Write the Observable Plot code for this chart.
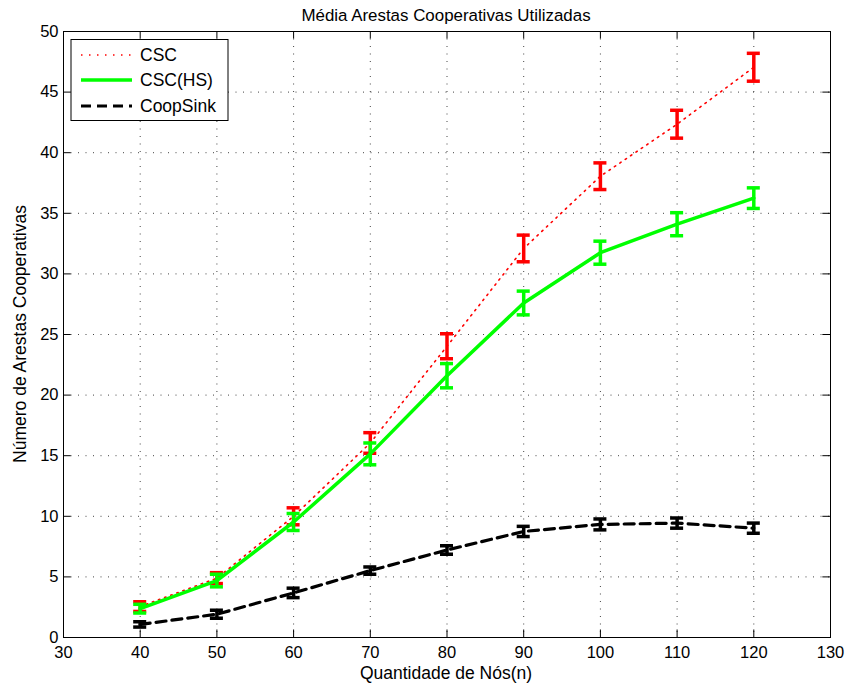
<!DOCTYPE html>
<html>
<head>
<meta charset="utf-8">
<script src="https://cdn.jsdelivr.net/npm/d3@7"></script>
<script src="https://cdn.jsdelivr.net/npm/@observablehq/plot@0.6"></script>
<style>
  html, body { margin: 0; padding: 0; background: #fff; }
</style>
</head>
<body>
<div id="chart"></div>
<script>
const nodes = [40, 50, 60, 70, 80, 90, 100, 110, 120];
const cscMean = [2.55, 4.9, 10.0, 16.05, 24.03, 32.1, 38.06, 42.35, 47.05];
const cscErr  = [0.4, 0.45, 0.7, 0.85, 1.03, 1.1, 1.1, 1.15, 1.15];
const hsMean  = [2.38, 4.7, 9.53, 15.15, 21.6, 27.6, 31.75, 34.1, 36.25];
const hsErr   = [0.36, 0.52, 0.7, 0.9, 1.0, 0.98, 0.95, 0.95, 0.85];
const coopMean = [1.08, 1.92, 3.68, 5.52, 7.22, 8.75, 9.33, 9.44, 9.02];
const coopErr  = [0.22, 0.33, 0.39, 0.3, 0.35, 0.42, 0.45, 0.42, 0.42];
const xTicks = [30, 40, 50, 60, 70, 80, 90, 100, 110, 120, 130];
const yTicks = [0, 5, 10, 15, 20, 25, 30, 35, 40, 45, 50];
const seriesNames = ["CSC", "CSC(HS)", "CoopSink"];
const titleText = "Média Arestas Cooperativas Utilizadas";
const xLabel = "Quantidade de Nós(n)";
const yLabel = "Número de Arestas Cooperativas";

function rows(means, errs) {
  return nodes.map((n, i) => ({x: n, y: means[i], lo: means[i] - errs[i], hi: means[i] + errs[i]}));
}
const csc = rows(cscMean, cscErr);
const hs = rows(hsMean, hsErr);
const coop = rows(coopMean, coopErr);

const capHalf = 0.85;
function errMarks(data, color) {
  return [
    Plot.ruleX(data, {x: "x", y1: "lo", y2: "hi", stroke: color, strokeWidth: 3.5}),
    Plot.ruleY(data, {y: "lo", x1: d => d.x - capHalf, x2: d => d.x + capHalf, stroke: color, strokeWidth: 3.5}),
    Plot.ruleY(data, {y: "hi", x1: d => d.x - capHalf, x2: d => d.x + capHalf, stroke: color, strokeWidth: 3.5})
  ];
}

const font = "'Liberation Sans', Arial, Helvetica, sans-serif";
const gridStyle = {stroke: "#444", strokeOpacity: 1, strokeWidth: 1, strokeDasharray: "1,6.5"};
const innerY = yTicks.filter(t => t > 0 && t < 50);
const innerX = xTicks.filter(t => t > 30 && t < 130);

const chart = Plot.plot({
  width: 849,
  height: 690,
  marginLeft: 63,
  marginRight: 19,
  marginTop: 31,
  marginBottom: 53,
  x: {domain: [30, 130]},
  y: {domain: [0, 50]},
  style: {fontFamily: font, background: "white", color: "black"},
  marks: [
    Plot.gridX(innerX, gridStyle),
    Plot.gridY(innerY, gridStyle),
    Plot.line(csc, {x: "x", y: "y", stroke: "#ff0000", strokeWidth: 1.6, strokeDasharray: "1.5,5"}),
    ...errMarks(csc, "#ff0000"),
    Plot.line(hs, {x: "x", y: "y", stroke: "#00ff00", strokeWidth: 3.5}),
    ...errMarks(hs, "#00ff00"),
    Plot.line(coop, {x: "x", y: "y", stroke: "#000", strokeWidth: 3.2, strokeDasharray: "10,6"}),
    ...errMarks(coop, "#000"),
    Plot.ruleX(xTicks, {x: d => d, y1: 0, y2: 0.62, stroke: "#000"}),
    Plot.ruleX(xTicks, {x: d => d, y1: 49.38, y2: 50, stroke: "#000"}),
    Plot.ruleY(yTicks, {y: d => d, x1: 30, x2: 31, stroke: "#000"}),
    Plot.ruleY(yTicks, {y: d => d, x1: 129, x2: 130, stroke: "#000"}),
    Plot.frame({stroke: "#000", strokeWidth: 1}),
    Plot.axisX({ticks: xTicks, tickSize: 0, tickPadding: 8.5, fontSize: 16.5, label: null}),
    Plot.axisY({ticks: yTicks, tickSize: 0, tickPadding: 5, fontSize: 16.5, label: null})
  ]
});

document.getElementById("chart").appendChild(chart);

const svg = d3.select(chart);
svg.append("text").attr("x", 446).attr("y", 21).attr("text-anchor", "middle")
  .attr("font-family", font).attr("font-size", 16.9).attr("fill", "#000").text(titleText);
svg.append("text").attr("x", 446).attr("y", 679).attr("text-anchor", "middle")
  .attr("font-family", font).attr("font-size", 17.5).attr("fill", "#000").text(xLabel);
svg.append("text").attr("transform", "translate(26,334) rotate(-90)").attr("text-anchor", "middle")
  .attr("font-family", font).attr("font-size", 17.5).attr("fill", "#000").text(yLabel);

// legend
const lg = svg.append("g").attr("text-anchor", "start");
lg.append("rect").attr("x", 71).attr("y", 39.5).attr("width", 157).attr("height", 81)
  .attr("fill", "#fff").attr("stroke", "#000").attr("stroke-width", 1);
const legendStyles = [
  {stroke: "#ff0000", width: 1.6, dash: "1.5,6.5"},
  {stroke: "#00ff00", width: 3.5, dash: null},
  {stroke: "#000", width: 3.2, dash: "10,6"}
];
const legendY = [55, 80, 106];
seriesNames.forEach((name, i) => {
  const s = legendStyles[i];
  const l = lg.append("line").attr("x1", 81).attr("x2", 132).attr("y1", legendY[i]).attr("y2", legendY[i])
    .attr("stroke", s.stroke).attr("stroke-width", s.width);
  if (s.dash) l.attr("stroke-dasharray", s.dash);
  lg.append("text").attr("x", 140).attr("y", legendY[i] + 6).attr("text-anchor", "start")
    .attr("font-family", font).attr("font-size", 17.5).attr("fill", "#000").text(name);
});
</script>
</body>
</html>
